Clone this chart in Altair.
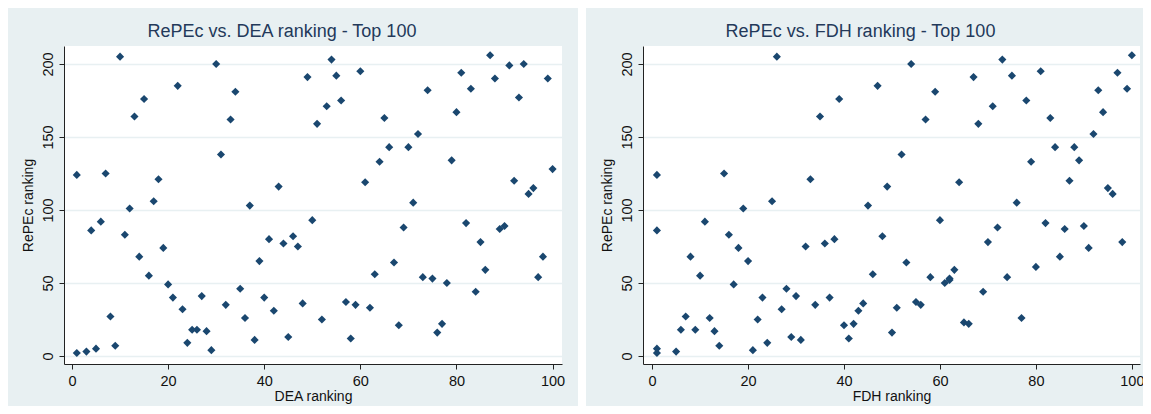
import altair as alt
import pandas as pd

# ---- data ----
dea_rank = [1, 1, 3, 4, 5, 6, 7, 8, 9, 10, 11, 12, 13, 14, 15, 16, 17, 18, 19, 20,
            21, 22, 23, 24, 25, 26, 27, 28, 29, 30, 31, 32, 33, 34, 35, 36, 37, 38, 39, 40,
            41, 42, 43, 44, 45, 46, 47, 48, 49, 50, 51, 52, 53, 54, 55, 56, 57, 58, 59, 60,
            61, 62, 63, 64, 65, 66, 67, 68, 69, 70, 71, 72, 73, 74, 75, 76, 77, 78, 79, 80,
            81, 82, 83, 84, 85, 86, 87, 88, 89, 90, 91, 92, 93, 94, 95, 96, 97, 98, 99, 100]
dea_repec = [2, 124, 3, 86, 5, 92, 125, 27, 7, 205, 83, 101, 164, 68, 176, 55, 106, 121, 74, 49,
             40, 185, 32, 9, 18, 18, 41, 17, 4, 200, 138, 35, 162, 181, 46, 26, 103, 11, 65, 40,
             80, 31, 116, 77, 13, 82, 75, 36, 191, 93, 159, 25, 171, 203, 192, 175, 37, 12, 35, 195,
             119, 33, 56, 133, 163, 143, 64, 21, 88, 143, 105, 152, 54, 182, 53, 16, 22, 50, 134, 167,
             194, 91, 183, 44, 78, 59, 206, 190, 87, 89, 199, 120, 177, 200, 111, 115, 54, 68, 190, 128]

fdh_rank = [1, 1, 1, 1, 5, 6, 7, 8, 9, 10, 11, 12, 13, 14, 15, 16, 17, 18, 19, 20,
            21, 22, 23, 24, 25, 26, 27, 28, 29, 30, 31, 32, 33, 34, 35, 36, 37, 38, 39, 40,
            41, 42, 43, 44, 45, 46, 47, 48, 49, 50, 51, 52, 53, 54, 55, 56, 57, 58, 59, 60,
            61, 62, 62, 63, 64, 65, 66, 67, 68, 69, 70, 71, 72, 73, 74, 75, 76, 77, 78, 79,
            80, 81, 82, 83, 84, 85, 86, 87, 88, 89, 90, 91, 92, 93, 94, 95, 96, 97, 98, 99, 100]
fdh_repec = [2, 5, 86, 124, 3, 18, 27, 68, 18, 55, 92, 26, 17, 7, 125, 83, 49, 74, 101, 65,
             4, 25, 40, 9, 106, 205, 32, 46, 13, 41, 11, 75, 121, 35, 164, 77, 40, 80, 176, 21,
             12, 22, 31, 36, 103, 56, 185, 82, 116, 16, 33, 138, 64, 200, 37, 35, 162, 54, 181, 93,
             50, 52, 53, 59, 119, 23, 22, 191, 159, 44, 78, 171, 88, 203, 54, 192, 105, 26, 175, 133,
             61, 195, 91, 163, 143, 68, 87, 120, 143, 134, 89, 74, 152, 182, 167, 115, 111, 194, 78, 183, 206]

x_ticks = [0, 20, 40, 60, 80, 100]
y_ticks = [0, 50, 100, 150, 200]

BG = "#E8F0F2"
NAVY = "#1A476F"
FONT = "Liberation Sans"
TOP_PAD = 38


def panel(xs, ys, xtitle, title, width, xdom, gap=False):
    df = pd.DataFrame({"rank": xs, "repec": ys})
    pts = alt.Chart(df).mark_point(
        shape="diamond", filled=True, size=66, color=NAVY, opacity=1
    ).encode(
        x=alt.X("rank:Q",
                scale=alt.Scale(domain=xdom, nice=False, zero=False),
                axis=alt.Axis(values=x_ticks, title=xtitle, grid=False,
                              labelPadding=5, titlePadding=2)),
        y=alt.Y("repec:Q",
                scale=alt.Scale(domain=[-5.5, 212.3], nice=False, zero=False),
                axis=alt.Axis(values=y_ticks, title="RePEc ranking", grid=True,
                              gridColor=BG, gridWidth=1.6,
                              labelAngle=270, labelAlign="center", labelBaseline="bottom",
                              labelPadding=4, titlePadding=5)),
    )
    layers = [pts]
    title_offset = 5
    if gap:
        strip = alt.Chart(alt.Data(values=[{"k": 1}])).mark_rect(
            color="white", clip=False
        ).encode(x=alt.value(514), x2=alt.value(522),
                 y=alt.value(-TOP_PAD), y2=alt.value(420))
        layers = [strip, pts]
        title_offset = 5 - TOP_PAD
    return alt.layer(*layers).properties(
        width=width, height=318,
        title=alt.TitleParams(title, fontSize=18, font=FONT, fontWeight="normal",
                              color="#23395A", anchor="middle", frame="group",
                              dx=-31, offset=title_offset),
    )


left = panel(dea_rank, dea_repec, "DEA ranking", "RePEc vs. DEA ranking - Top 100",
             498, [-1.66, 101.96], gap=True)
right = panel(fdh_rank, fdh_repec, "FDH ranking", "RePEc vs. FDH ranking - Top 100",
              497, [-1.9, 101.7])

chart = alt.hconcat(left, right, spacing=81, bounds="flush").properties(
    padding={"left": 56, "top": TOP_PAD, "right": 3, "bottom": 42},
    background=BG,
    autosize=alt.AutoSizeParams(type="none"),
).add_params(
    alt.param(name="width", value=1076),
    alt.param(name="height", value=318),
).configure_view(
    fill="white", stroke=None
).configure_axis(
    domainColor="#222222", tickColor="#222222", tickSize=5, domainWidth=1, tickWidth=1,
    labelFont=FONT, labelFontSize=14.5, labelColor="#111111",
    titleFont=FONT, titleFontSize=14, titleFontWeight="normal", titleColor="#111111",
)

chart.save("out.html", embed_options={"renderer": "svg", "actions": False})
